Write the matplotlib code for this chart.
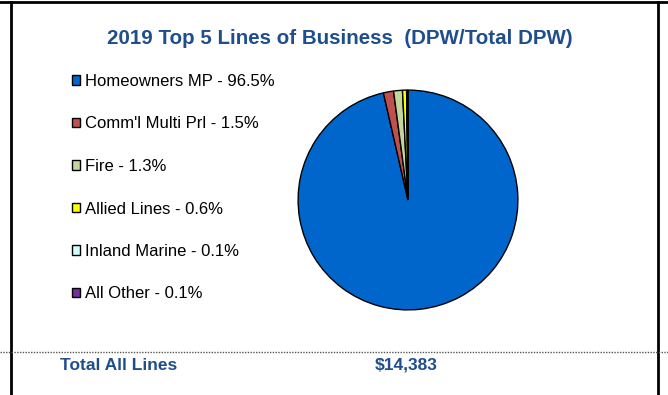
import matplotlib.pyplot as plt
from matplotlib.lines import Line2D

# ── Data ──────────────────────────────────────────────────────────────────
LINES  = ["Homeowners MP", "Comm'l Multi Prl", "Fire", "Allied Lines",
          "Inland Marine", "All Other"]
SHARES = [96.5, 1.5, 1.3, 0.6, 0.1, 0.1]
COLORS = ["#0066CC", "#C0504D", "#C3D69B", "#FFFF00", "#CCFFFF", "#7030A0"]
TITLE  = "2019 Top 5 Lines of Business  (DPW/Total DPW)"
TOTAL_LABEL = "Total All Lines"
TOTAL_VALUE = "$14,383"

NAVY = "#1F4E8C"
W, H = 668, 395

plt.rcParams['font.family'] = ['Liberation Sans', 'DejaVu Sans']

fig = plt.figure(figsize=(W / 100, H / 100), dpi=100)

# ── Pie ──────────────────────────────────────────────────────────────────
cx, cy, r = 408, 200, 111
ax = fig.add_axes([(cx - r) / W, (H - cy - r) / H, 2 * r / W, 2 * r / H])
wedges, _ = ax.pie(SHARES, colors=COLORS, startangle=90, counterclock=False,
                   wedgeprops=dict(edgecolor="black", linewidth=1.0))
ax.set_xlim(-1.01, 1.01)
ax.set_ylim(-1.01, 1.01)
ax.set_aspect('equal')

# ── Legend ────────────────────────────────────────────────────────────────
labels = [f"{n} - {v}%" for n, v in zip(LINES, SHARES)]
fig.legend(wedges, labels, loc='upper left',
           bbox_to_anchor=(72 / W, 1 - 74 / H), frameon=False,
           fontsize=12, labelspacing=1.65, handlelength=0.5,
           handleheight=0.5, handletextpad=0.3, borderpad=0,
           borderaxespad=0)

# ── Title & totals ───────────────────────────────────────────────────────
fig.text(340 / W, 1 - 38 / H, TITLE, ha='center', va='center',
         fontsize=14.8, fontweight='bold', color=NAVY)
fig.text(60 / W, 1 - 365 / H, TOTAL_LABEL, ha='left', va='center',
         fontsize=12.5, fontweight='bold', color=NAVY)
fig.text(375 / W, 1 - 365 / H, TOTAL_VALUE, ha='left', va='center',
         fontsize=12.5, fontweight='bold', color=NAVY)

# ── Frame lines ──────────────────────────────────────────────────────────
fig.add_artist(Line2D([0, 1], [1 - 2 / H] * 2, color="black", lw=2))
fig.add_artist(Line2D([11 / W] * 2, [0, 1 - 2 / H], color="black", lw=2))
fig.add_artist(Line2D([658 / W] * 2, [0, 1 - 2 / H], color="black", lw=2))
fig.add_artist(Line2D([0, 1], [1 - 352 / H] * 2, color="#555555", lw=1,
                      linestyle=(0, (1, 1))))

fig.savefig("out.png", dpi=100)
